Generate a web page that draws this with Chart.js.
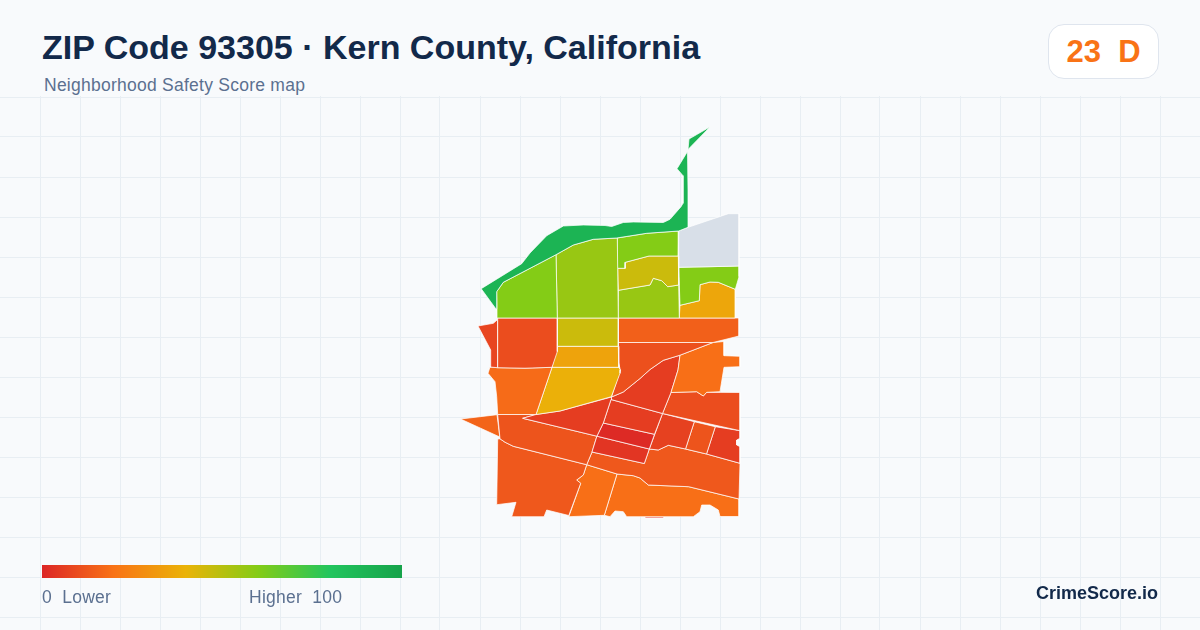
<!DOCTYPE html>
<html>
<head>
<meta charset="utf-8">
<script src="https://cdn.jsdelivr.net/npm/chart.js@4"></script>
<style>
  html, body { margin:0; padding:0; width:1200px; height:630px; overflow:hidden; background:#f8fafc; font-family:"Liberation Sans", Arial, sans-serif; }
  #map-wrap { position:absolute; left:0; top:96px; width:1200px; height:534px; }
  .txt { position:absolute; white-space:pre; line-height:1; }
  #title { left:42px; top:30px; font-size:34px; font-weight:700; color:#12294a; }
  #sub { left:44px; top:77px; font-size:17.5px; color:#5b7090; letter-spacing:0.25px; }
  #badge { position:absolute; left:1048px; top:24px; width:109px; height:53px; background:#fff; border:1px solid #dfe5ee; border-radius:16px; text-align:center; line-height:53px; font-size:31px; font-weight:700; color:#f97316; white-space:pre; }
  #ramp { position:absolute; left:42px; top:565px; width:360px; height:13px; }
  #low { left:42px; top:589px; font-size:17.5px; color:#5b7090; letter-spacing:0.25px; }
  #high { left:249px; top:589px; font-size:17.5px; color:#5b7090; letter-spacing:0.25px; }
  #brand { left:1036px; top:584px; font-size:18px; font-weight:700; color:#12294a; }
</style>
</head>
<body>
<div id="map-wrap"><canvas id="map"></canvas></div>
<div class="txt" id="title">ZIP Code 93305 · Kern County, California</div>
<div class="txt" id="sub">Neighborhood Safety Score map</div>
<div id="badge">23  D</div>
<div id="ramp"></div>
<div class="txt" id="low">0  Lower</div>
<div class="txt" id="high">Higher  100</div>
<div class="txt" id="brand">CrimeScore.io</div>

<script>
/* score ramp, 0..100 in equal steps */
const rampColors = ['#dc2626', '#f97316', '#eab308', '#84cc16', '#22c55e', '#16a34a'];
const noDataColor = '#d8dfe8';

/* grid of the map frame */
const gridCols = [40,80,120,160,200,240,280,320,360,400,440,480,520,560,600,640,680,720,760,800,840,880,920,960,1000,1040,1080,1120,1160];
const gridRows = [97,137,177,217,257,297,337,377,417,457,497,537,577,617];

/* tract outlines, map units */
const northTip = [[710.2,126.8],[689,139],[688,149.5]];
const northStrip = [[687.5,151.5],[677,168.7],[683,175.7],[683,203.3],[681,206.7],[670,219.3],[663.3,222.5],[633.3,222],[623.3,222.5],[611.7,226.5],[605,225.5],[583.3,225],[563.3,226],[546.7,235.7],[530,253],[521.7,263.7],[481.2,288.7],[496,309],[496.7,291.7],[503.3,282.3],[556,254.7],[573.3,245],[593.3,239.3],[616.7,238],[646.7,233.3],[678.7,231],[688,227.3],[688,190]];
const limeWest = [[496.7,291.7],[503.3,282.3],[556,254.7],[557.3,318],[497.7,318],[497,305]];
const oliveCentre = [[556,254.7],[573.3,245],[593.3,239.3],[617.3,238],[618.3,318],[557.3,318]];
const limeNorth = [[617.3,238],[646.7,233.3],[678.7,231],[678.3,256],[649,256],[625.3,262.3],[625,268.3],[617.7,268.3]];
const mustardMid = [[617.7,268.3],[625,268.3],[625.3,262.3],[649,256],[678.3,256],[678.7,285],[667.7,286.7],[661.7,280.7],[653.3,278.3],[650,285],[618.3,290.3]];
const oliveSouth = [[618.3,290.3],[650,285],[653.3,278.3],[661.7,280.7],[667.7,286.7],[678.7,285],[679.3,318],[618.3,318]];
const noDataEast = [[678.7,231],[688,227.3],[728.3,213.7],[739,213.7],[739,266],[710,266.7],[678.7,267.3]];
const limeEast = [[678.7,267.3],[710,266.7],[739,266],[739,276.7],[735.3,289.3],[718.3,282.3],[710,282],[700,284.7],[699.3,300.7],[680,305.3]];
const amberEast = [[680,305.3],[699.3,300.7],[700,284.7],[710,282],[718.3,282.3],[735.3,289.3],[735.3,318],[679.3,318]];
const redWest = [[497.7,318],[557.3,318],[557.3,351.7],[552,367.3],[525,368.2],[497.7,367.7]];
const farWest = [[478,326],[493.3,323.3],[497.7,319.5],[497.7,367.7],[490,367],[490.7,350]];
const orangeWest = [[490,367],[497.7,367.7],[525,368.2],[552,367.3],[536,414.5],[497.7,414.5],[496.7,396.7],[495,381.7],[488,373.3]];
const mustardTop = [[557.3,318],[618.3,318],[618.3,346.3],[557.3,346.3]];
const amberMid = [[557.3,346.3],[618.3,346.3],[618.8,367.3],[552,367.3]];
const goldMid = [[552,367.3],[618.8,367.3],[620.3,370],[620,373.3],[611.3,396.7],[560,411],[536,414.5]];
const orangeNorth = [[618.3,318],[739,318],[739,336],[713,342.5],[618.3,342.5]];
const redOrangeWedge = [[618.3,342.5],[713,342.5],[680,355.2],[663.3,360.3],[650,369.5],[640,378.5],[623.3,392],[611.5,397],[620.3,370],[618.8,363.3]];
const orangeEast = [[680,355.2],[713,342.5],[724,341.5],[724,355.7],[740,356.3],[740,366.7],[724,367.3],[720,391.7],[706.7,392.3],[703.3,396],[696.7,391.7],[671,392.5],[678,370]];
const redTriangleNorth = [[680,355.2],[678,370],[671,392.5],[662.5,413.5],[611,399.5],[611.5,397],[623.3,392],[640,378.5],[650,369.5],[663.3,360.3]];
const redTriangleWest = [[611.5,397],[560,411],[536,414.5],[522.7,418.3],[596.9,436.2],[603.3,423],[611,399.5]];
const blockUpper = [[611,399.5],[662.5,413.5],[654.5,434.3],[603.3,423]];
const blockCore = [[603.3,423],[654.5,434.3],[649.3,449],[596.9,436.2]];
const blockLower = [[596.9,436.2],[649.3,449],[644.3,463.5],[592,452]];
const eastUpper = [[671,392.5],[696.7,391.7],[703.3,396],[706.7,392.3],[740,392.5],[740,430.7],[662.5,413.5]];
const eastBlockA = [[662.5,413.5],[694.3,421.7],[685.5,449],[668.3,445.3],[658.3,450],[649.3,449]];
const eastBlockB = [[694.3,421.7],[715.3,426.7],[706.5,454],[685.5,449]];
const eastBlockC = [[715.3,426.7],[740,430.7],[740,438.3],[736.7,440],[736.7,445],[740,446.7],[740,463.3],[706.5,454]];
const railWest = [[497.7,414.5],[536,414.5],[522.7,418.3],[596.9,436.2],[592,452],[586.7,464.7],[513.3,446.3],[505,442.2],[500,438.8]];
const railEast = [[592,452],[644.3,463.5],[649.3,449],[658.3,450],[668.3,445.3],[685.5,449],[706.5,454],[740,463.3],[739,499],[688.7,486.7],[648.3,485],[640,478],[633.3,475.7],[617,474],[586.7,464.7]];
const southWest = [[497.7,439],[500,438.8],[505,442.2],[513.3,446.3],[586.7,464.7],[583.3,475],[576.7,480],[580.7,483.3],[568.8,515.5],[546.7,510],[544,516.7],[511.7,516.7],[516,502.3],[496.7,504.7]];
const southMid = [[586.7,464.7],[617,474],[604.3,515.3],[568.8,516.7],[580.7,483.3],[576.7,480],[583.3,475]];
const southEast = [[617,474],[633.3,475.7],[640,478],[648.3,485],[688.7,486.7],[739,499],[739,516.5],[720,516.5],[718.3,510],[710,505],[701.7,505],[700,511.7],[693.3,516.7],[626.7,516.7],[623.3,511.7],[615,511],[610,516.7],[604.3,515.3]];
const southSliver = [[645,516.8],[664,516.8],[664,518],[645,518]];
const westSpike = [[460.5,419],[497,414.7],[499.8,437]];

const tracts = [northTip, northStrip, limeWest, oliveCentre, limeNorth, mustardMid, oliveSouth, noDataEast, limeEast, amberEast, redWest, farWest, orangeWest, mustardTop, amberMid, goldMid, orangeNorth, redOrangeWedge, orangeEast, redTriangleNorth, redTriangleWest, blockUpper, blockCore, blockLower, eastUpper, eastBlockA, eastBlockB, eastBlockC, railWest, railEast, southWest, southMid, southEast, southSliver, westSpike];
const tractScores = [90, 90, 60, 56, 60, 46, 56, null, 60, 36, 10, 8, 18, 46, 35, 39, 15, 11, 19, 6, 6, 6, 1, 4, 10, 7, 12, 6, 12, 13, 13, 19, 19, 1, 16];

function hex2rgb(h) {
    return [1, 3, 5].map(i => parseInt(h.slice(i, i + 2), 16));
}

function scoreColor(score) {
    if (score === null) return noDataColor;
    const pos = score / 100 * (rampColors.length - 1);
    const i = Math.min(Math.floor(pos), rampColors.length - 2);
    const a = hex2rgb(rampColors[i]), b = hex2rgb(rampColors[i + 1]);
    const c = a.map((v, k) => Math.round(v + (b[k] - v) * (pos - i)));
    return `rgb(${c[0]},${c[1]},${c[2]})`;
}

document.getElementById('ramp').style.background =
    `linear-gradient(to right, ${rampColors.join(',')})`;

new Chart(document.getElementById('map'), {
    type: 'scatter',
    data: {
        datasets: tracts.map((shape, i) => ({
            data: shape.concat([shape[0]]).map(p => ({ x: p[0], y: p[1] })),
            showLine: true,
            fill: 'shape',
            backgroundColor: scoreColor(tractScores[i]),
            borderColor: 'rgba(255,255,255,0.9)',
            borderWidth: 0.8,
            borderJoinStyle: 'round',
            pointRadius: 0,
            tension: 0,
        })),
    },
    options: {
        responsive: true,
        maintainAspectRatio: false,
        animation: false,
        events: [],
        layout: { padding: 0 },
        plugins: { legend: { display: false }, tooltip: { enabled: false } },
        scales: {
            x: {
                type: 'linear', min: 0, max: 1200,
                afterBuildTicks: s => { s.ticks = gridCols.map(v => ({ value: v })); },
                ticks: { display: false },
                border: { display: false },
                grid: { color: '#e8eef3', lineWidth: 1, drawTicks: false },
            },
            y: {
                type: 'linear', min: 96, max: 630, reverse: true,
                afterBuildTicks: s => { s.ticks = gridRows.map(v => ({ value: v })); },
                ticks: { display: false },
                border: { display: false },
                grid: { color: '#e8eef3', lineWidth: 1, drawTicks: false },
            },
        },
    },
});
</script>
</body>
</html>
